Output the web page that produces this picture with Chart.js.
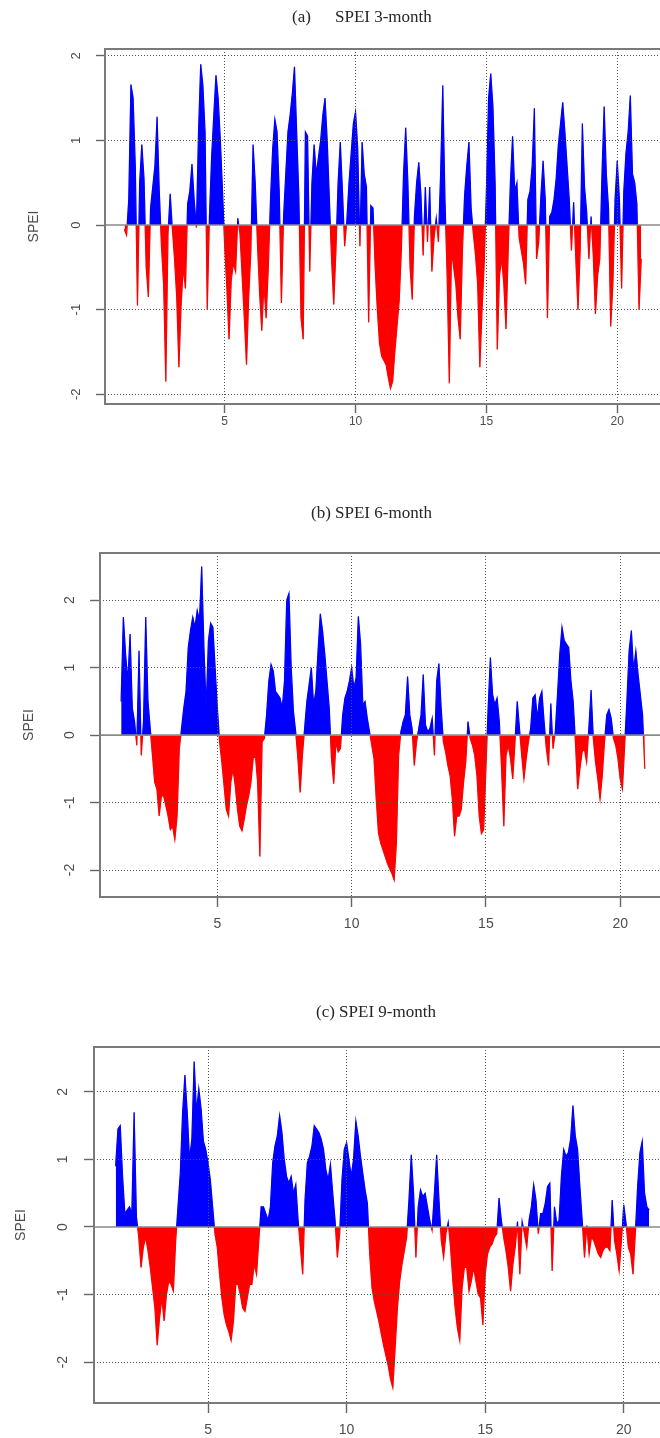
<!DOCTYPE html>
<html>
<head>
<meta charset="utf-8">
<title>SPEI</title>
<script src="https://cdn.jsdelivr.net/npm/chart.js@4.4.1/dist/chart.umd.min.js"></script>
<style>
  html, body { margin: 0; padding: 0; background: #fff; }
  body { width: 660px; height: 1438px; overflow: hidden; position: relative; }
  canvas { position: absolute; left: 0; }
</style>
</head>
<body>
<canvas id="spei3Chart" width="700" height="440" style="top:0px"></canvas>
<canvas id="spei6Chart" width="700" height="440" style="top:500px"></canvas>
<canvas id="spei9Chart" width="700" height="438" style="top:1000px"></canvas>
<script>
// monthly SPEI values; month 0 = start of year 1, the first months are empty
// because the accumulation window is not yet full
const spei3Start = 2;
const spei3 = [
  -0.05, -0.12, 0.3, 1.66, 1.5, 0.7, -0.95, 0.5, 0.95, 0.55,
  -0.5, -0.85, 0.2, 0.45, 0.7, 1.28, 0.4, -0.25, -0.7, -1.85, -0.1, 0.37,
  -0.05, -0.4, -0.85, -1.68, -0.95, -0.5, -0.75, 0.25, 0.4, 0.72, 0.3, -0.03,
  1.1, 1.9, 1.65, 1.1, -1.0, 0.1, 0.8, 1.3, 1.77, 1.5, 1.0, 0.4,
  -0.25, -0.75, -1.35, -0.65, -0.45, -0.55, 0.08, -0.1, -0.6, -1.1, -1.65, -0.85,
  -0.3, 0.95, 0.5, -0.2, -0.8, -1.25, -0.7, -1.1, -0.5, 0.3, 0.9, 1.25,
  1.1, 0.4, -0.92, 0.1, 0.6, 1.1, 1.3, 1.55, 1.87, 1.1, 0.35, -1.1,
  -1.35, 1.1, 1.05, -0.55, 0.5, 0.95, 0.6, 0.8, 1.0, 1.3, 1.5, 1.0,
  0.3, -0.4, -0.94, -0.3, 0.5, 0.98, 0.4, -0.25, 0.05, 0.5, 0.85, 1.2,
  1.34, 0.9, -0.25, 0.98, 0.6, 0.45, -1.15, 0.23, 0.2, -0.5, -1.0, -1.4,
  -1.55, -1.6, -1.65, -1.8, -1.93, -1.85, -1.5, -1.2, -0.9, -0.3, 0.6, 1.15,
  0.5, -0.5, -0.88, 0.1, 0.5, 0.74, 0.35, -0.36, 0.45, -0.2, 0.45, -0.55,
  -0.15, 0.08, -0.2, 0.6, 1.65, 0.3, -0.6, -1.87, -0.3, -0.5, -0.7, -1.1,
  -1.35, -0.3, 0.35, 0.7, 0.98, 0.2, -0.1, -0.35, -0.7, -1.68, -1.0, -0.45,
  0.4, 1.5, 1.79, 1.4, 0.5, -1.47, -0.6, -0.4, -0.7, -1.23, -0.3, 0.5,
  1.05, 0.4, 0.5, -0.15, -0.3, -0.45, -0.7, 0.3, 0.4, 0.7, 1.38, -0.4,
  -0.2, 0.35, 0.76, 0.3, -1.1, 0.1, 0.15, 0.3, 0.55, 0.95, 1.2, 1.45,
  1.1, 0.7, 0.3, -0.3, 0.27, -0.4, -1.0, -0.3, 1.2, 0.45, 0.15, -0.4,
  0.1, -0.35, -1.05, -0.6, -0.4, 0.6, 1.4, 0.6, 0.2, -1.2, -0.7, 0.3,
  0.76, 0.3, -0.75, 0.4, 0.85, 1.1, 1.53, 0.6, 0.5, 0.25, -1.0, -0.4
];

const spei6Start = 5;
const spei6 = [
  0.5, 1.75, 1.2, 0.8, 1.5, 0.4, 0.2,
  -0.15, 1.25, -0.3, 0.2, 1.75, 0.5, 0.1, -0.3, -0.7, -0.8, -1.2, -0.9,
  -0.9, -1.05, -1.2, -1.4, -1.35, -1.55, -1.2, -0.2, 0.1, 0.4, 0.65, 1.3,
  1.55, 1.75, 1.6, 1.85, 1.7, 2.5, 1.3, 0.4, 1.4, 1.66, 1.6, 1.0,
  0.4, -0.1, -0.4, -0.75, -1.1, -1.2, -0.7, -0.5, -0.75, -1.1, -1.35, -1.42,
  -1.25, -1.05, -0.9, -0.7, -0.35, -0.3, -0.7, -1.8, -0.1, -0.05, 0.3, 0.8,
  1.05, 0.95, 0.65, 0.6, 0.55, 0.4, 0.8, 2.0, 2.1, 1.0, 0.35, 0.05,
  -0.35, -0.85, -0.3, 0.1, 0.5, 0.75, 1.0, 0.45, 0.65, 1.25, 1.8, 1.55,
  1.2, 0.8, 0.4, -0.35, -0.72, -0.1, -0.25, -0.2, 0.3, 0.55, 0.65, 0.8,
  1.0, 0.7, 0.85, 1.76, 1.35, 0.45, 0.5, 0.25, 0.05, -0.15, -0.35, -0.95,
  -1.45, -1.6, -1.7, -1.8, -1.9, -1.98, -2.05, -2.15, -1.6, -0.3, 0.05, 0.2,
  0.3, 0.87, 0.3, 0.1, -0.45, -0.1, 0.1, 0.3, 0.9, 0.15, 0.05, 0.1,
  0.25, -0.3, 0.8, 1.06, 0.4, -0.1, -0.25, -0.45, -0.6, -0.95, -1.5, -1.2,
  -1.2, -1.1, -0.7, -0.4, 0.2, -0.05, -0.15, -0.3, -0.6, -1.2, -1.46, -1.4,
  -0.5, 0.4, 1.15, 0.6, 0.45, 0.55, 0.2, -0.5, -1.35, -0.3, -0.15, -0.35,
  -0.65, -0.1, 0.5, 0.1, -0.3, -0.65, -0.35, -0.1, 0.1, 0.55, 0.6, 0.25,
  0.55, 0.65, 0.2, -0.2, -0.45, 0.47, -0.2, 0.05, 0.6, 1.2, 1.6, 1.4,
  1.35, 1.3, 0.8, 0.5, -0.1, -0.8, -0.5, -0.25, -0.2, -0.4, 0.1, 0.67,
  -0.05, -0.4, -0.65, -0.95, -0.6, -0.1, 0.3, 0.38, 0.25, -0.05, -0.15, -0.35,
  -0.65, -0.8, -0.15, 0.5, 1.25, 1.55, 0.95, 1.25, 0.9, 0.6, 0.3, -0.5
];

const spei9Start = 8;
const spei9 = [
  0.9, 1.45, 1.5, 0.75,
  0.2, 0.25, 0.3, 0.2, 1.7, 0.15, -0.15, -0.6, -0.3, -0.15, -0.35, -0.6,
  -0.9, -1.2, -1.75, -1.35, -1.05, -1.39, -1.0, -0.8, -0.85, -0.95, -0.2, 0.3,
  0.8, 1.7, 2.25, 1.7, 1.0, 1.3, 2.45, 1.7, 2.05, 1.75, 1.27, 1.15,
  0.95, 0.7, 0.3, -0.1, -0.3, -0.7, -1.05, -1.3, -1.45, -1.55, -1.68, -1.4,
  -0.85, -0.85, -1.0, -1.2, -1.25, -1.05, -0.85, -0.85, -0.55, -0.7, -0.2, 0.3,
  0.3, 0.2, 0.1, 0.3, 0.95, 1.2, 1.35, 1.65, 1.4, 1.0, 0.75, 0.65,
  0.75, 0.5, 0.63, 0.1, -0.3, -0.7, 0.4, 0.95, 1.05, 1.2, 1.5, 1.45,
  1.4, 1.3, 1.15, 0.85, 0.7, 0.93, 0.5, 0.1, -0.45, -0.1, 0.7, 1.15,
  1.25, 1.0, 0.75, 1.0, 1.57, 1.35, 1.05, 0.8, 0.55, 0.35, -0.4, -0.9,
  -1.1, -1.25, -1.4, -1.58, -1.75, -1.9, -2.05, -2.25, -2.38, -1.8, -1.2, -0.8,
  -0.55, -0.35, -0.15, 0.4, 1.07, 0.5, -0.45, 0.3, 0.55, 0.45, 0.5, 0.3,
  0.1, -0.05, 0.5, 1.07, 0.4, -0.2, -0.45, -0.1, 0.07, -0.3, -0.8, -1.2,
  -1.5, -1.68, -0.9, -0.6, -0.6, -0.95, -0.8, -0.6, -0.8, -1.0, -1.05, -1.45,
  -0.7, -0.4, -0.3, -0.25, -0.15, -0.1, 0.43, 0.1, -0.15, -0.35, -0.6, -0.95,
  -0.55, -0.3, 0.08, -0.7, 0.08, -0.1, -0.3, 0.1, 0.3, 0.63, 0.4, -0.1,
  0.2, 0.2, 0.35, 0.6, 0.65, -0.65, 0.3, 0.05, 0.1, 0.75, 1.15, 1.05,
  1.1, 1.3, 1.8, 1.35, 1.15, 0.6, 0.1, -0.45, 0.02, -0.4, -0.15, -0.2,
  -0.3, -0.4, -0.45, -0.35, -0.3, -0.3, -0.35, 0.4, -0.2, -0.4, -0.65, -0.2,
  0.33, 0.05, -0.3, -0.4, -0.7, -0.1, 0.6, 1.1, 1.27, 0.5, 0.3, 0.25
];

const xTicks = [5, 10, 15, 20];
const yTicks = [-2, -1, 0, 1, 2];

const BLUE = '#0000ff';
const RED = '#ff0000';

// stroke colour that is blue above the zero line and red below it
function signColour(c) {
  const chart = c.chart;
  const area = chart.chartArea;
  if (!area) return BLUE;
  const y0 = chart.scales.y.getPixelForValue(0);
  const f = Math.min(1, Math.max(0, (y0 - area.top) / (area.bottom - area.top)));
  const g = chart.ctx.createLinearGradient(0, area.top, 0, area.bottom);
  g.addColorStop(0, BLUE);
  g.addColorStop(f, BLUE);
  g.addColorStop(f, RED);
  g.addColorStop(1, RED);
  return g;
}

// frame, zero line, turned y labels and the panel heading
const speiFrame = {
  id: 'speiFrame',
  afterDatasetsDraw(chart) {
    const { ctx, chartArea: a, scales: { y } } = chart;
    const y0 = y.getPixelForValue(0);
    ctx.save();
    ctx.strokeStyle = '#8a8a8a';
    ctx.lineWidth = 1.6;
    ctx.beginPath();
    ctx.moveTo(a.left, y0);
    ctx.lineTo(a.right, y0);
    ctx.stroke();
    ctx.restore();
  },
  afterDraw(chart, args, opts) {
    const { ctx, chartArea: a, scales: { y } } = chart;
    ctx.save();
    ctx.strokeStyle = '#7a7a7a';
    ctx.lineWidth = 2;
    ctx.strokeRect(a.left, a.top, a.right - a.left, a.bottom - a.top);

    ctx.fillStyle = '#4d4d4d';
    ctx.textAlign = 'center';
    ctx.textBaseline = 'middle';
    ctx.font = opts.tickFont;
    y.ticks.forEach(t => {
      ctx.save();
      ctx.translate(a.left - opts.tickOffset, y.getPixelForValue(t.value));
      ctx.rotate(-Math.PI / 2);
      ctx.fillText(String(t.value), 0, 0);
      ctx.restore();
    });

    ctx.font = opts.nameFont;
    ctx.save();
    ctx.translate(opts.nameX, (a.top + a.bottom) / 2);
    ctx.rotate(-Math.PI / 2);
    ctx.fillText('SPEI', 0, 0);
    ctx.restore();

    ctx.fillStyle = '#262626';
    ctx.font = '17px "Liberation Serif", "DejaVu Serif", serif';
    ctx.textAlign = 'left';
    opts.heading.forEach(h => ctx.fillText(h.text, h.x, opts.headingY));
    ctx.restore();
  }
};

function speiChart(id, start, values, o) {
  const points = values.map((v, i) => ({ x: 1 + (start + i) / 12, y: v }));
  const gridOpts = {
    z: 1,
    color: c => (c.tick && c.tick.value === 0 && c.scale.axis === 'y') ? 'rgba(0,0,0,0)' : '#555',
    lineWidth: 1,
    tickLength: o.tick,
    tickColor: '#666',
    tickWidth: 1.4,
    tickBorderDash: []
  };
  return new Chart(document.getElementById(id), {
    type: 'line',
    data: {
      datasets: [
        {
          // filled area, blue above zero and red below, edged in the same colours
          data: points,
          borderWidth: 1.2,
          borderColor: signColour,
          pointRadius: 0,
          tension: 0,
          fill: { target: 'origin', above: BLUE, below: RED }
        },
        {
          // the series itself as a thin grey trace
          data: points,
          borderColor: 'rgba(165,165,165,0.7)',
          borderWidth: 1,
          pointRadius: 0,
          tension: 0,
          fill: false
        }
      ]
    },
    options: {
      responsive: false,
      animation: false,
      events: [],
      layout: { padding: { left: o.left - o.tick, top: o.top, right: 10, bottom: 0 } },
      plugins: {
        legend: { display: false },
        tooltip: { enabled: false },
        speiFrame: o.frame
      },
      scales: {
        x: {
          type: 'linear',
          min: o.xMin,
          max: o.xMax,
          afterBuildTicks: s => { s.ticks = xTicks.map(v => ({ value: v })); },
          afterFit: s => { s.height = o.xHeight; },
          grid: gridOpts,
          border: { display: false, dash: [1, 2] },
          ticks: {
            color: '#4d4d4d',
            padding: o.xPad,
            maxRotation: 0,
            font: { family: '"Liberation Sans", Arial, sans-serif', size: o.xFont }
          }
        },
        y: {
          min: o.yMin,
          max: o.yMax,
          afterBuildTicks: s => { s.ticks = yTicks.map(v => ({ value: v })); },
          afterFit: s => { s.width = o.tick; },
          grid: gridOpts,
          border: { display: false, dash: [1, 2] },
          ticks: { display: false }
        }
      }
    },
    plugins: [speiFrame]
  });
}

speiChart('spei3Chart', spei3Start, spei3, {
  left: 105, top: 49, xHeight: 36, tick: 9, xPad: 1, xFont: 12,
  xMin: 0.426, xMax: 22.78, yMin: -2.115, yMax: 2.08,
  frame: {
    tickFont: '13px "Liberation Sans", Arial, sans-serif', tickOffset: 29,
    nameFont: '14px "Liberation Sans", Arial, sans-serif', nameX: 34,
    headingY: 18,
    heading: [{ text: '(a)', x: 292 }, { text: 'SPEI 3-month', x: 335 }]
  }
});

speiChart('spei6Chart', spei6Start, spei6, {
  left: 100, top: 53, xHeight: 43, tick: 10, xPad: 9, xFont: 14,
  xMin: 0.63, xMax: 22.6, yMin: -2.40, yMax: 2.70,
  frame: {
    tickFont: '14px "Liberation Sans", Arial, sans-serif', tickOffset: 30,
    nameFont: '14px "Liberation Sans", Arial, sans-serif', nameX: 29,
    headingY: 14,
    heading: [{ text: '(b) SPEI 6-month', x: 311 }]
  }
});

speiChart('spei9Chart', spei9Start, spei9, {
  left: 94, top: 47, xHeight: 35, tick: 10, xPad: 9, xFont: 14,
  xMin: 0.886, xMax: 22.39, yMin: -2.606, yMax: 2.665,
  frame: {
    tickFont: '14px "Liberation Sans", Arial, sans-serif', tickOffset: 31,
    nameFont: '14px "Liberation Sans", Arial, sans-serif', nameX: 21,
    headingY: 13,
    heading: [{ text: '(c) SPEI 9-month', x: 316 }]
  }
});
</script>
</body>
</html>
